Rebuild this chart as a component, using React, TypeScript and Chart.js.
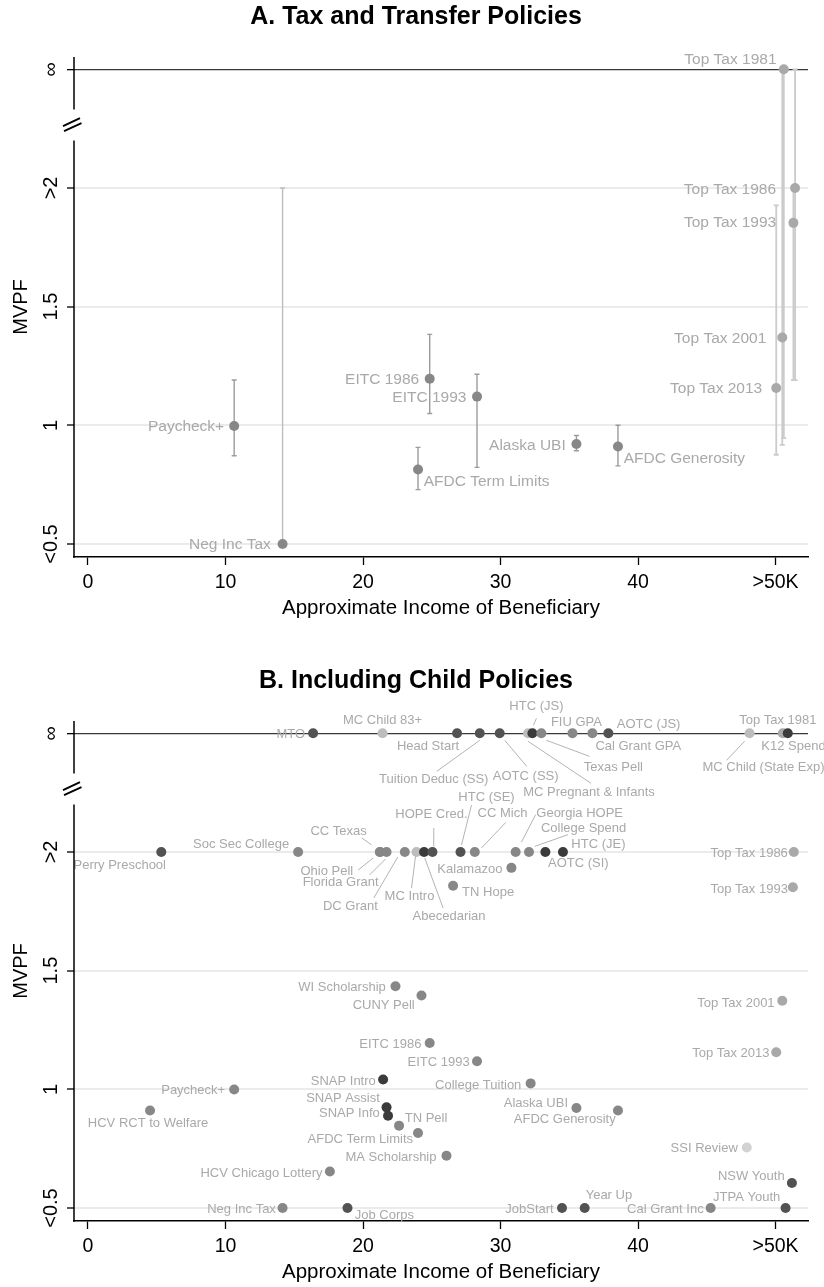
import { useEffect, useRef } from 'react';
import { Chart, registerables } from 'chart.js';

Chart.register(...registerables);

const FONT = '"Liberation Sans", Arial, Helvetica, sans-serif';

// ---------- Axes ----------
const X_TICKS = [0, 10, 20, 30, 40, 50];
const X_TICK_LABELS = ['0', '10', '20', '30', '40', '>50K'];
const Y_TICKS = [0.5, 1, 1.5, 2, 2.5];
const Y_TICK_LABELS = ['<0.5', '1', '1.5', '>2', '\u221E'];
const INF = 2.5;
const X_MIN = -1.018;
const X_MAX = 52.36;
const Y_MIN = 0.4452;
const Y_MAX = 2.5518;
const Y_GAP_TOP = 2.331;
const Y_GAP_BOTTOM = 2.2;
const Y_BREAK = 2.267;
const X_TITLE = 'Approximate Income of Beneficiary';
const Y_TITLE = 'MVPF';

// ---------- Panel A: Tax and Transfer Policies ----------
const A_TITLE = 'A. Tax and Transfer Policies';
const A_NAMES = [
  'Paycheck+', 'Neg Inc Tax', 'AFDC Term Limits', 'EITC 1986', 'EITC 1993', 'Alaska UBI',
  'AFDC Generosity', 'Top Tax 2013', 'Top Tax 2001', 'Top Tax 1981', 'Top Tax 1993', 'Top Tax 1986',
];
const A_X = [10.63, 14.15, 24.0, 24.85, 28.29, 35.52, 38.54, 50.05, 50.49, 50.6, 51.3, 51.42];
const A_Y = [0.997, 0.5, 0.814, 1.196, 1.121, 0.921, 0.911, 1.157, 1.37, INF, 1.853, 2.0];
const A_LO = [0.872, 0.5, 0.729, 1.05, 0.823, 0.893, 0.829, 0.876, 0.918, 0.946, 1.19, 1.19];
const A_HI = [1.191, 2.0, 0.907, 1.383, 1.215, 0.957, 1.0, 1.927, INF, INF, 2.0, INF];
const A_GROUP = [2, 2, 2, 2, 2, 2, 2, 3, 3, 3, 3, 3];

// ---------- Panel B: Including Child Policies ----------
const B_TITLE = 'B. Including Child Policies';
const B_NAMES = [
  'MTO', 'MC Child 83+', 'Head Start', 'Tuition Deduc (SS)', 'AOTC (SS)', 'MC Pregnant & Infants',
  'HTC (JS)', 'Texas Pell', 'FIU GPA', 'Cal Grant GPA', 'AOTC (JS)', 'MC Child (State Exp)',
  'Top Tax 1981', 'K12 Spend',
  'Perry Preschool', 'Soc Sec College', 'CC Texas', 'Ohio Pell', 'Florida Grant', 'DC Grant',
  'MC Intro', 'Abecedarian', 'HOPE Cred.', 'HTC (SE)', 'CC Mich', 'Georgia HOPE', 'College Spend',
  'AOTC (SI)', 'HTC (JE)', 'Top Tax 1986',
  'Kalamazoo', 'TN Hope', 'Top Tax 1993', 'WI Scholarship', 'CUNY Pell', 'Top Tax 2001',
  'EITC 1986', 'Top Tax 2013', 'EITC 1993', 'SNAP Intro', 'College Tuition', 'Paycheck+',
  'SNAP Assist', 'Alaska UBI', 'HCV RCT to Welfare', 'AFDC Generosity', 'SNAP Info', 'TN Pell',
  'AFDC Term Limits', 'SSI Review', 'MA Scholarship', 'HCV Chicago Lottery', 'NSW Youth',
  'Neg Inc Tax', 'Job Corps', 'JobStart', 'Year Up', 'Cal Grant Inc', 'JTPA Youth',
];
const B_X = [
  16.37, 21.42, 26.84, 28.49, 29.94, 32.0, 32.32, 32.97, 35.23, 36.68, 37.84, 48.11, 50.53, 50.89,
  5.33, 15.28, 21.22, 21.25, 21.71, 23.04, 23.89, 24.44, 25.05, 27.09, 28.13, 31.1, 32.07,
  33.26, 34.54, 51.33,
  30.79, 26.55, 51.26, 22.36, 24.25, 50.49, 24.85, 50.05, 28.29, 21.46, 32.19, 10.63,
  21.71, 35.52, 4.51, 38.54, 21.82, 22.62, 24.0, 47.91, 26.07, 17.59, 51.19,
  14.15, 18.87, 34.47, 36.12, 45.28, 50.73,
];
const B_Y = [
  INF, INF, INF, INF, INF, INF, INF, INF, INF, INF, INF, INF, INF, INF,
  2, 2, 2, 2, 2, 2, 2, 2, 2, 2, 2, 2, 2, 2, 2, 2,
  1.933, 1.858, 1.851, 1.434, 1.395, 1.373, 1.195, 1.156, 1.118, 1.041, 1.025, 0.999,
  0.924, 0.921, 0.911, 0.911, 0.889, 0.847, 0.816, 0.755, 0.72, 0.654, 0.605,
  0.5, 0.5, 0.5, 0.5, 0.5, 0.5,
];
const B_GROUP = [
  1, 4, 1, 1, 1, 4, 0, 2, 2, 2, 1, 4, 3, 0,
  1, 2, 2, 2, 2, 2, 4, 0, 1, 1, 2, 2, 2, 0, 0, 3,
  2, 2, 3, 2, 2, 3, 2, 3, 2, 0, 2, 2,
  0, 2, 2, 2, 0, 2, 2, 5, 2, 2, 1,
  2, 1, 1, 1, 2, 1,
];

// ---------- Styles / layout ----------
const GROUP_COLORS = ['#3b3b3b', '#525252', '#878787', '#a9a9a9', '#bdbdbd', '#d2d2d2'];
const LABEL_COLOR = '#a9a9a9';

type LabelPos = [number, number, CanvasTextAlign, number[]?];

const A_LABEL_POS: LabelPos[] = [
  [-10, 1, 'right'], [-11.7, 1, 'right'], [5.7, 12, 'left'], [-10.5, 1, 'right'],
  [-10.6, 0.7, 'right'], [-10.7, 1.4, 'right'], [5.7, 12.6, 'left'], [-14, 0.7, 'right'],
  [-16, 1.3, 'right'], [-7.3, -10, 'right'], [-17.3, 0, 'right'], [-19, 1.7, 'right'],
];

const B_LABEL_POS: LabelPos[] = [
  [-8, 1, 'right'], [0, -13, 'center'], [2, 13, 'right'],
  [-46, 46, 'center', [0, 7, -43, 38]], [26, 43.5, 'center', [5, 7, 27, 33]],
  [61, 59.5, 'center', [0, 8, 63, 50]], [4, -27, 'center', [1, -8, 4, -15]],
  [72, 34, 'center', [5, 7, 48, 23]], [4, -11, 'center'], [3, 13.5, 'left'], [8.5, -9, 'left'],
  [14, 34.5, 'center', [-5, 8, -23, 27]], [-5, -13, 'center'], [-26.5, 13, 'left'],
  [4.7, 13.5, 'right'], [-9, -8, 'right'], [-13, -21, 'right', [-18, -14, -8, -7]],
  [-27, 19, 'right', [-22, 18, -7, 6]], [-8, 30.5, 'right', [-17, 23, -1, 7]],
  [-27, 54.5, 'right', [-31, 46, -7, 5]], [-7, 44.5, 'center', [-5, 36, -1, 4.5]],
  [25, 64.5, 'center', [0.7, 6, 19, 56]], [-1, -37.5, 'center', [1.3, -24, 1.3, -5.6]],
  [26, -54.5, 'center', [1, -7, 11, -47]], [27.7, -39, 'center', [6.7, -4, 31, -29.6]],
  [64, -39, 'center', [5.7, -9.6, 20, -37.3]], [54.6, -24, 'center', [5.7, -5.6, 39, -17.3]],
  [2.6, 11.7, 'left'], [8.4, -7.3, 'left'], [-6, 1.7, 'right'],
  [-9, 1.7, 'right'], [9, 6.7, 'left'], [-5, 1.6, 'right'], [-9.7, 1.6, 'right'],
  [-6.7, 9.7, 'right'], [-7.7, 2.3, 'right'], [-8.3, 1, 'right'], [-6.7, 1.3, 'right'],
  [-7.3, 1, 'right'], [-7.3, 1.7, 'right'], [-9.3, 1.6, 'right'], [-9, 1, 'right'],
  [-6.7, -8.7, 'right'], [-8.4, -5, 'right'], [-2, 13.3, 'center'], [-2.3, 8.6, 'right'],
  [-8.3, -2, 'right'], [5.7, -7, 'left'], [-5, 6.7, 'right'], [-9, 1.3, 'right'],
  [-10, 1.3, 'right'], [-7.3, 1.6, 'right'], [-7.3, -6.6, 'right'],
  [-6.7, 1, 'right'], [7.3, 7.3, 'left'], [-8.3, 1.3, 'right'], [1, -12.7, 'left'],
  [-7, 1.6, 'right'], [-5.3, -10.4, 'right'],
];

type Panel = {
  title: string;
  names: string[];
  xs: number[];
  ys: number[];
  groups: number[];
  lo?: number[];
  hi?: number[];
  labelPos: LabelPos[];
  labelSize: number;
};

const PANEL_A: Panel = {
  title: A_TITLE, names: A_NAMES, xs: A_X, ys: A_Y, groups: A_GROUP, lo: A_LO, hi: A_HI,
  labelPos: A_LABEL_POS, labelSize: 15.5,
};
const PANEL_B: Panel = {
  title: B_TITLE, names: B_NAMES, xs: B_X, ys: B_Y, groups: B_GROUP,
  labelPos: B_LABEL_POS, labelSize: 13,
};

function makePlugin(panel: Panel) {
  return {
    id: 'mvpfDecor',
    beforeDatasetsDraw(chart: any) {
      const { ctx, scales } = chart;
      const xs = scales.x;
      const ys = scales.y;
      if (!panel.lo || !panel.hi) return;
      ctx.save();
      panel.xs.forEach((xv, i) => {
        const lo = panel.lo![i];
        const hi = panel.hi![i];
        const px = xs.getPixelForValue(xv);
        const p1 = ys.getPixelForValue(lo);
        const p2 = ys.getPixelForValue(hi);
        const isTax = panel.groups[i] === 3;
        ctx.strokeStyle = isTax ? '#cbcbcb' : hi >= 2 ? '#bdbdbd' : '#9c9c9c';
        ctx.lineWidth = isTax ? 1.8 : 1.4;
        ctx.beginPath();
        ctx.moveTo(px, p1);
        ctx.lineTo(px, p2);
        ctx.moveTo(px - 2.5, p1);
        ctx.lineTo(px + 2.5, p1);
        ctx.moveTo(px - 2.5, p2);
        ctx.lineTo(px + 2.5, p2);
        ctx.stroke();
      });
      ctx.restore();
    },
    afterDatasetsDraw(chart: any) {
      const { ctx, scales } = chart;
      const xs = scales.x;
      const ys = scales.y;
      ctx.save();
      ctx.font = `${panel.labelSize}px ${FONT}`;
      ctx.textBaseline = 'middle';
      panel.names.forEach((name, i) => {
        const px = xs.getPixelForValue(panel.xs[i]);
        const py = ys.getPixelForValue(panel.ys[i]);
        const [dx, dy, align, leader] = panel.labelPos[i];
        if (leader) {
          ctx.strokeStyle = '#b3b3b3';
          ctx.lineWidth = 1;
          ctx.beginPath();
          ctx.moveTo(px + leader[0], py + leader[1]);
          ctx.lineTo(px + leader[2], py + leader[3]);
          ctx.stroke();
        }
        ctx.fillStyle = LABEL_COLOR;
        ctx.textAlign = align;
        ctx.fillText(name, px + dx, py + dy);
      });
      ctx.restore();
    },
    afterDraw(chart: any) {
      const { ctx, scales, chartArea } = chart;
      const ys = scales.y;
      const left = chartArea.left;
      ctx.save();
      // broken y axis line
      ctx.strokeStyle = '#000';
      ctx.lineWidth = 1.5;
      ctx.beginPath();
      ctx.moveTo(left, chartArea.top);
      ctx.lineTo(left, ys.getPixelForValue(Y_GAP_TOP));
      ctx.moveTo(left, ys.getPixelForValue(Y_GAP_BOTTOM));
      ctx.lineTo(left, chartArea.bottom + 0.75);
      ctx.stroke();
      // break marks
      const by = ys.getPixelForValue(Y_BREAK);
      ctx.lineWidth = 1.8;
      ctx.beginPath();
      ctx.moveTo(left - 11, by + 1.5);
      ctx.lineTo(left + 6, by - 6.5);
      ctx.moveTo(left - 10, by + 6.5);
      ctx.lineTo(left + 7.5, by - 1.5);
      ctx.stroke();
      // rotated y tick labels
      ctx.fillStyle = '#000';
      ctx.font = `20px ${FONT}`;
      ctx.textAlign = 'center';
      ctx.textBaseline = 'middle';
      Y_TICKS.forEach((v, i) => {
        const py = ys.getPixelForValue(v);
        ctx.save();
        ctx.translate(left - 22.5, py);
        ctx.rotate(-Math.PI / 2);
        ctx.fillText(Y_TICK_LABELS[i], 0, 0);
        ctx.restore();
      });
      // panel title
      ctx.font = `bold 25px ${FONT}`;
      ctx.textAlign = 'center';
      ctx.fillText(panel.title, chart.width / 2 + 4, 17);
      ctx.restore();
    },
  };
}

function buildConfig(panel: Panel): any {
  return {
    type: 'scatter',
    data: {
      datasets: [
        {
          data: panel.xs.map((x, i) => ({ x, y: panel.ys[i] })),
          pointRadius: 5,
          pointHoverRadius: 5,
          pointBorderWidth: 0,
          pointBorderColor: 'rgba(0,0,0,0)',
          pointBackgroundColor: panel.groups.map((g) => GROUP_COLORS[g]),
        },
      ],
    },
    options: {
      responsive: false,
      animation: false,
      events: [],
      layout: { padding: { top: 57, right: 16, bottom: 0, left: 0 } },
      plugins: {
        legend: { display: false },
        tooltip: { enabled: false },
        title: { display: false },
      },
      scales: {
        x: {
          type: 'linear',
          min: X_MIN,
          max: X_MAX,
          afterFit: (s: any) => {
            s.height = 107;
          },
          afterBuildTicks: (s: any) => {
            s.ticks = X_TICKS.map((v) => ({ value: v }));
          },
          ticks: {
            autoSkip: false,
            maxRotation: 0,
            minRotation: 0,
            padding: 6,
            color: '#000',
            font: { family: FONT, size: 19.5 },
            callback: (v: number) => {
              const i = X_TICKS.indexOf(v);
              return i >= 0 ? X_TICK_LABELS[i] : '';
            },
          },
          grid: {
            drawOnChartArea: false,
            drawTicks: true,
            tickLength: 8,
            tickColor: '#000',
            tickWidth: 1.3,
          },
          border: { display: true, color: '#000', width: 1.5 },
          title: {
            display: true,
            text: X_TITLE,
            color: '#000',
            font: { family: FONT, size: 20.5 },
            padding: { top: 0, bottom: 43.5 },
          },
        },
        y: {
          type: 'linear',
          min: Y_MIN,
          max: Y_MAX,
          afterFit: (s: any) => {
            s.width = 74;
          },
          afterBuildTicks: (s: any) => {
            s.ticks = Y_TICKS.map((v) => ({ value: v }));
          },
          ticks: { display: false },
          grid: {
            color: (c: any) => (c.tick && c.tick.value === INF ? '#3a3a3a' : '#ebebeb'),
            lineWidth: (c: any) => (c.tick && c.tick.value === INF ? 1.3 : 2),
            drawTicks: true,
            tickLength: 7,
            tickColor: '#000',
            tickWidth: 1.3,
          },
          border: { display: false },
          title: {
            display: true,
            text: Y_TITLE,
            color: '#000',
            font: { family: FONT, size: 20 },
            padding: { top: 9, bottom: 0 },
          },
        },
      },
    },
    plugins: [makePlugin(panel)],
  };
}

function ChartPanel({ panel, top }: { panel: Panel; top: number }) {
  const ref = useRef<HTMLCanvasElement>(null);
  useEffect(() => {
    if (!ref.current) return;
    const chart = new Chart(ref.current, buildConfig(panel));
    return () => chart.destroy();
  }, [panel]);
  return (
    <canvas
      ref={ref}
      width={824}
      height={664}
      style={{ position: 'absolute', left: 0, top, width: 824, height: 664 }}
    />
  );
}

export default function App() {
  return (
    <div
      style={{
        position: 'absolute',
        left: 0,
        top: 0,
        width: 824,
        height: 1287,
        overflow: 'hidden',
        background: '#fff',
      }}
    >
      <ChartPanel panel={PANEL_A} top={0} />
      <ChartPanel panel={PANEL_B} top={664} />
    </div>
  );
}
